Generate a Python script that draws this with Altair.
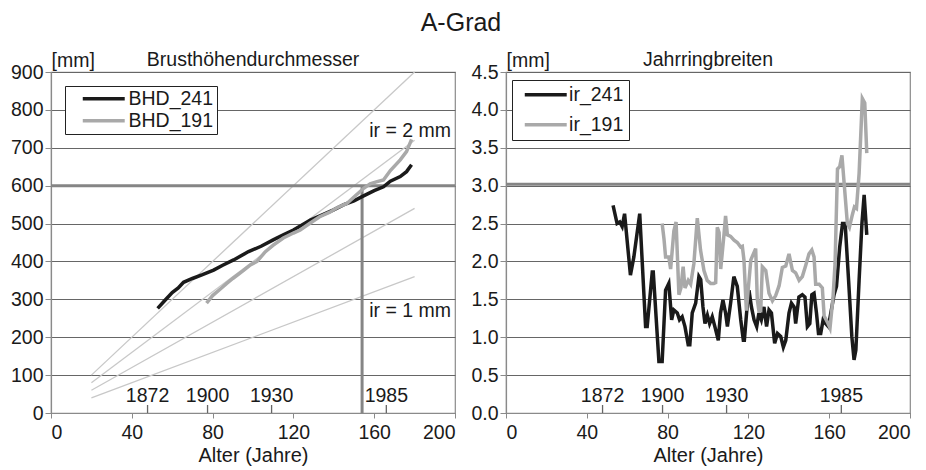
import altair as alt
import pandas as pd

# ---------------- data ----------------
bhd_241_age = [52.8, 56, 60, 63, 65.6, 70, 75, 80.5, 85, 90.4, 97.8, 104, 110, 115, 120,
               128.4, 134, 139.9, 145, 150, 154, 160, 164.6, 168, 172.9, 176, 178.5]
bhd_241_mm = [276, 295, 318, 330, 345, 355, 365, 377, 390, 404, 426, 440, 457, 470, 483,
              509, 522, 536, 550, 560, 571, 587, 597, 612, 624, 637, 655]

bhd_191_age = [77, 80, 84, 87, 90, 95, 98.7, 102, 106, 110, 115, 120, 123.4, 128, 133, 138,
               142, 146.5, 150, 154.8, 158, 161, 164.6, 168, 172.9, 176, 178.5]
bhd_191_mm = [290, 310, 328, 342, 355, 375, 391, 400, 425, 443, 462, 475, 483, 500, 518, 530,
              543, 553, 570, 593, 605, 610, 615, 640, 668, 690, 722]

ir_241_age = [53, 55, 56.3, 57.5, 58.7, 61.6, 63.3, 66.2, 69.1, 69.9, 72.4, 72.9, 75.7, 77.3,
              79, 80.6, 82, 83.1, 84.8, 85.9, 87.2, 88.6, 90.2, 91, 92.2, 93.9, 95.5, 96.4,
              97.5, 98.5, 99.7, 100.8, 102.1, 103.4, 105.1, 106.2, 107.4, 108.7, 109.6, 111.2,
              112.8, 114.5, 116.2, 117.5, 118, 119.5, 120.3, 121.5, 122.8, 124.1, 125.2, 126.4,
              127.7, 129, 130.2, 131.4, 133, 134.4, 136, 137.3, 138.5, 140.1, 141.3, 142.6,
              143.4, 145, 146.7, 148, 149.2, 150.4, 151.4, 152.5, 153.7, 154.7, 155.8, 157,
              158.3, 159.6, 162.4, 163.6, 165.2, 166.6, 167.9, 169.6, 171.2, 172.3, 173.2,
              174.8, 176.2, 177.3, 178.6]
ir_241_mm = [2.74, 2.50, 2.52, 2.46, 2.63, 1.82, 2.06, 2.63, 1.14, 1.14, 1.86, 1.86, 0.68, 0.68,
             1.62, 1.71, 1.23, 1.36, 1.32, 1.23, 1.27, 1.14, 0.90, 0.90, 1.32, 1.45, 1.80, 1.76,
             1.40, 1.18, 1.29, 1.18, 1.27, 1.14, 0.96, 1.32, 1.49, 1.32, 1.14, 1.45,
             1.80, 1.67, 1.23, 0.96, 0.96, 1.45, 1.62, 1.40, 1.23, 1.14, 1.32, 1.23,
             1.40, 1.14, 1.36, 1.32, 0.92, 1.05, 1.01, 0.87, 0.96, 1.32, 1.45, 1.40,
             1.18, 1.53, 1.56, 1.53, 1.14, 1.18, 1.56, 1.58, 1.32, 1.05, 1.05, 1.23,
             1.18, 1.14, 1.56, 1.67, 2.19, 2.50, 2.50, 1.75, 1.01, 0.70, 0.83,
             1.75, 2.50, 2.88, 2.35]

ir_191_age = [77.3, 78.2, 79.0, 80.6, 81.5, 83.1, 84.2, 85.6, 86.6, 87.7, 88.6, 90.2, 91.4,
              93.0, 94.7, 96.3, 98.0, 99.6, 101.3, 102.9, 103.8, 104.6, 105.5, 106.3, 107.9,
              108.7, 109.6, 111.2, 112.9, 114.5, 116.2, 117.0, 117.8, 119.0, 121.2, 122.8,
              123.6, 124.4, 125.2, 126.1, 126.9, 128.6, 130.2, 131.9, 133.5, 135.2, 136.8,
              138.5, 140.1, 141.8, 143.4, 145.1, 146.7, 148.4, 150.0, 151.4, 152.5, 153.3,
              155.0, 156.6, 157.5, 159.1, 160.4, 161.9, 162.9, 164.1, 165.2, 166.3, 167.4,
              169.0, 170.0, 171.5, 172.5, 173.5, 174.8, 176.4, 177.6, 178.6]
ir_191_mm = [2.50, 2.30, 2.06, 2.06, 1.90, 2.40, 2.52, 1.56, 1.65, 1.93, 1.65, 1.75, 1.70,
             1.97, 2.57, 2.15, 1.88, 1.75, 1.71, 1.71, 1.72, 2.45, 2.38, 1.90, 2.35,
             2.60, 2.35, 2.33, 2.28, 2.25, 2.19, 2.20, 2.02, 1.35, 2.02, 2.12,
             2.17, 1.50, 1.35, 1.35, 1.93, 1.88, 1.58, 1.48, 1.55, 1.68, 1.92,
             1.94, 2.10, 1.88, 1.85, 1.75, 1.80, 1.95, 2.10, 2.15, 2.06, 1.70,
             1.70, 1.65, 1.28, 1.20, 1.12, 1.53, 1.97, 3.22, 3.25, 3.40, 3.03,
             2.50, 2.45, 2.62, 2.72, 2.70, 3.16, 4.15, 4.09, 3.43]

# reference lines of constant ring width (start / end points)
guide_ids = ["g5", "g4", "g3", "g2"]
guide_age = [20, 180]
guide_start_mm = [100, 80, 60, 40]
guide_end_mm = [900, 720, 540, 360]

guide_text = ["ir = 2 mm", "ir = 1 mm"]
guide_text_age = [198, 198]
guide_text_mm = [728, 253]

limit_bhd = [600]
limit_age = [154]
limit_ir = [3.02]

year_labels = ["1872", "1900", "1930", "1985"]
year_age = [47.8, 77.5, 109.2, 166]

x_ticks = [0, 40, 80, 120, 160, 200]
y_ticks_left = [0, 100, 200, 300, 400, 500, 600, 700, 800, 900]
y_ticks_right = [0, 0.5, 1.0, 1.5, 2.0, 2.5, 3.0, 3.5, 4.0, 4.5]

# ---------------- frames ----------------
bhd_df = pd.concat([
    pd.DataFrame({"age": bhd_241_age, "mm": bhd_241_mm, "series": "BHD_241"}),
    pd.DataFrame({"age": bhd_191_age, "mm": bhd_191_mm, "series": "BHD_191"}),
])
ir_df = pd.concat([
    pd.DataFrame({"age": ir_241_age, "mm": ir_241_mm, "series": "ir_241"}),
    pd.DataFrame({"age": ir_191_age, "mm": ir_191_mm, "series": "ir_191"}),
])
guide_rows = []
for gid, s, e in zip(guide_ids, guide_start_mm, guide_end_mm):
    guide_rows.append({"gid": gid, "age": guide_age[0], "mm": s})
    guide_rows.append({"gid": gid, "age": guide_age[1], "mm": e})
guide_df = pd.DataFrame(guide_rows)
gtext_df = pd.DataFrame({"age": guide_text_age, "mm": guide_text_mm, "label": guide_text})
year_df = pd.DataFrame({"age": year_age, "label": year_labels})
hlim_left_df = pd.DataFrame({"mm": limit_bhd})
vlim_left_df = pd.DataFrame({"age": limit_age, "mm": [0], "mm2": limit_bhd})
hlim_right_df = pd.DataFrame({"mm": limit_ir})

FONT = "Liberation Sans"
W, H = 404, 341
BLACK = "#1a1a1a"
GRAY = "#a9a9a9"
LIMIT = "#858585"


def x_enc():
    return alt.X("age:Q", scale=alt.Scale(domain=[0, 200], nice=False),
                 axis=alt.Axis(values=x_ticks, title="Alter (Jahre)", grid=False,
                               tickSize=5, labelPadding=5, titlePadding=4))


def y_enc(domain, ticks, fmt):
    return alt.Y("mm:Q", scale=alt.Scale(domain=domain, nice=False),
                 axis=alt.Axis(values=ticks, format=fmt, title="[mm]", grid=True,
                               tickSize=6, labelOverlap=False, titleAngle=0,
                               titleAlign="left", titleBaseline="alphabetic",
                               titleX=0, titleY=-6, titleFontSize=19.5))


def year_layers():
    ticks = alt.Chart(year_df).mark_rule(color="#666", strokeWidth=1.3).encode(
        x=x_enc(), y=alt.value(H - 8), y2=alt.value(H))
    labels = alt.Chart(year_df).mark_text(fontSize=19.5, font=FONT, color=BLACK,
                                          baseline="alphabetic", align="center").encode(
        x=x_enc(), y=alt.value(H - 11), text="label:N")
    return [ticks, labels]


def legend(x, y, pad, row_pad, sym_off, lab_off):
    return alt.Legend(title=None, orient="none", legendX=x, legendY=y, direction="vertical",
                      symbolType="M-4,0H4", symbolSize=110, symbolStrokeWidth=3.5,
                      labelFontSize=19.5, labelFont=FONT, labelColor=BLACK,
                      strokeColor="#222", fillColor="white", padding=pad,
                      rowPadding=row_pad, symbolOffset=sym_off, labelOffset=lab_off)


def panel_title(text):
    return alt.TitleParams(text, fontSize=19.5, fontWeight="normal", font=FONT,
                           color=BLACK, offset=-20, anchor="middle")


# ---------------- left panel ----------------
yl = lambda: y_enc([0, 900], y_ticks_left, "d")
left_guides = alt.Chart(guide_df).mark_line(color="#c8c8c8", strokeWidth=1.3).encode(
    x=x_enc(), y=yl(), detail="gid:N")
left_h = alt.Chart(hlim_left_df).mark_rule(color=LIMIT, strokeWidth=3).encode(y=yl())
left_v = alt.Chart(vlim_left_df).mark_rule(color=LIMIT, strokeWidth=3).encode(
    x=x_enc(), y=yl(), y2="mm2:Q")
left_lines = alt.Chart(bhd_df).mark_line(strokeWidth=3.5).encode(
    x=x_enc(), y=yl(),
    color=alt.Color("series:N",
                    scale=alt.Scale(domain=["BHD_241", "BHD_191"], range=[BLACK, GRAY]),
                    legend=legend(14, 14, 3, 1, 26, 15)),
    order=alt.Order("age:Q"))
left_text = alt.Chart(gtext_df).mark_text(fontSize=19.5, font=FONT, color=BLACK,
                                          align="right", baseline="alphabetic").encode(
    x=x_enc(), y=yl(), text="label:N")

left = alt.layer(left_guides, left_h, left_v, left_lines, left_text, *year_layers()).properties(
    width=W, height=H, title=panel_title("Brusthöhendurchmesser"))

# ---------------- right panel ----------------
yr = lambda: y_enc([0, 4.5], y_ticks_right, ".1f")
right_h = alt.Chart(hlim_right_df).mark_rule(color=LIMIT, strokeWidth=3).encode(y=yr())
right_lines = alt.Chart(ir_df).mark_line(strokeWidth=3.5).encode(
    x=x_enc(), y=yr(),
    color=alt.Color("series:N",
                    scale=alt.Scale(domain=["ir_241", "ir_191"], range=[BLACK, GRAY]),
                    legend=legend(6, 8, 5, 9, 19, 13.6)),
    order=alt.Order("age:Q"))

right = alt.layer(right_h, right_lines, *year_layers()).properties(
    width=W, height=H, title=panel_title("Jahrringbreiten"))

chart = alt.hconcat(left, right, spacing=51, bounds="flush").resolve_scale(
    color="independent").properties(
    title=alt.TitleParams("A-Grad", fontSize=25, fontWeight="normal", font=FONT,
                          color=BLACK, anchor="middle", offset=13),
    padding={"left": 9, "top": 10, "right": 5, "bottom": 2},
    background="white",
).configure_view(stroke="#8a8a8a", strokeWidth=1.2).configure_axis(
    labelFont=FONT, titleFont=FONT, labelFontSize=19.5, titleFontSize=20,
    titleFontWeight="normal", labelColor=BLACK, titleColor=BLACK,
    domainColor="#8a8a8a", tickColor="#8a8a8a", gridColor="#666", gridWidth=1,
    domainWidth=1.2,
)

chart.save("out.html", embed_options={"renderer": "svg", "actions": False})
